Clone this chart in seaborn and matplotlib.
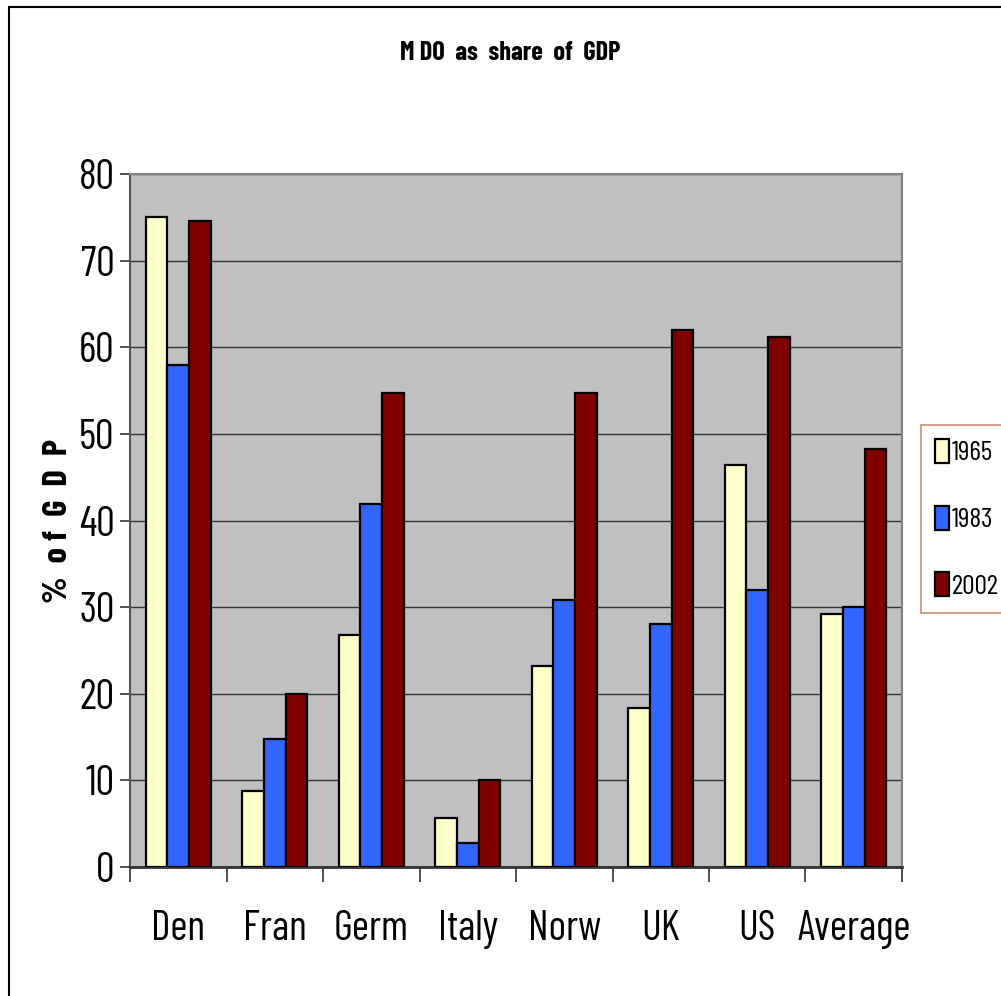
import matplotlib
matplotlib.use("Agg")
import matplotlib.pyplot as plt
import pandas as pd
import seaborn as sns
from matplotlib import font_manager
from matplotlib.patches import Rectangle

countries = ["Den", "Fran", "Germ", "Italy", "Norw", "UK", "US", "Average"]
years = ["1965", "1983", "2002"]
share_1965 = [75.0, 8.8, 26.8, 5.6, 23.2, 18.4, 46.4, 29.2]
share_1983 = [57.9, 14.8, 41.9, 2.8, 30.8, 28.0, 32.0, 30.0]
share_2002 = [74.6, 20.0, 54.7, 10.0, 54.7, 62.0, 61.2, 48.3]
y_ticks = [0, 10, 20, 30, 40, 50, 60, 70, 80]

PALETTE = {"1965": "#FFFFCC", "1983": "#3366FF", "2002": "#800000"}

sns.set_theme(style="white")
installed = {f.name for f in font_manager.fontManager.ttflist}
narrow = [n for n in ["Barlow Condensed", "Roboto Condensed", "Archivo Narrow",
                      "Liberation Sans"] if n in installed]
plt.rcParams["font.family"] = narrow[:1] + ["DejaVu Sans"]
plt.rcParams["text.color"] = "black"
plt.rcParams["axes.labelcolor"] = "black"
plt.rcParams["xtick.color"] = "black"
plt.rcParams["ytick.color"] = "black"

df = pd.DataFrame({
    "country": countries * 3,
    "year": [y for y in years for _ in countries],
    "share": share_1965 + share_1983 + share_2002,
})

fig = plt.figure(figsize=(10.01, 9.96), dpi=100)
fig.patch.set_facecolor("white")
ax = fig.add_axes([130 / 1001, 1 - 867 / 996, 772 / 1001, 693 / 996])
ax.set_facecolor("#C0C0C0")

sns.barplot(data=df, x="country", y="share", hue="year", order=countries,
            hue_order=years, palette=PALETTE, saturation=1, width=0.67, gap=0,
            edgecolor="black", linewidth=1.6, errorbar=None, ax=ax, zorder=3)

ax.set_xlim(-0.5, len(countries) - 0.5)
ax.set_ylim(0, 80)
ax.set_yticks(y_ticks)
ax.set_yticklabels([str(t) for t in y_ticks], fontsize=30)
ax.yaxis.grid(True, color="#333333", linewidth=1.0, zorder=1)
ax.set_axisbelow(True)

# boundary ticks between categories, labels centred under each group
ax.set_xticks([i - 0.5 for i in range(len(countries) + 1)])
ax.set_xticklabels([])
ax.set_xticks(range(len(countries)), minor=True)
ax.set_xticklabels(countries, minor=True, fontsize=30)
ax.tick_params(axis="x", which="major", direction="out", length=11, width=1.2,
               color="#333333", bottom=True)
ax.tick_params(axis="x", which="minor", length=0, pad=31)
ax.tick_params(axis="y", direction="out", length=7, width=1.2, color="#333333",
               left=True, pad=4)

ax.set_xlabel("")
ax.set_ylabel("%  o f  G  D  P", fontsize=25, fontweight="bold", labelpad=4)

for side in ["top", "right"]:
    ax.spines[side].set_color("#808080")
    ax.spines[side].set_linewidth(1.5)
ax.spines["left"].set_color("#555555")
ax.spines["left"].set_linewidth(1.5)
ax.spines["bottom"].set_color("#333333")
ax.spines["bottom"].set_linewidth(2)

fig.text(510 / 1001, 1 - 53 / 996, "M DO  as  share  of  GDP", ha="center",
         va="center", fontsize=19, fontweight="bold")

handles, labels = ax.get_legend_handles_labels()
ax.legend_.remove()
leg = fig.legend(handles, labels, loc="upper left",
                 bbox_to_anchor=(921 / 1001, 1 - 425 / 996),
                 bbox_transform=fig.transFigure, fontsize=20, frameon=True,
                 fancybox=False, edgecolor="#C07050", handlelength=0.5,
                 handleheight=0.95, handletextpad=0.12, labelspacing=1.45,
                 borderpad=0.5, borderaxespad=0)
leg.get_frame().set_linewidth(1.2)

fig.add_artist(Rectangle((9 / 1001, -0.05), 1.1, 1.05 - 7 / 996,
                         transform=fig.transFigure, fill=False,
                         edgecolor="black", linewidth=1.5))

fig.savefig("out.png", dpi=100, facecolor="white")
